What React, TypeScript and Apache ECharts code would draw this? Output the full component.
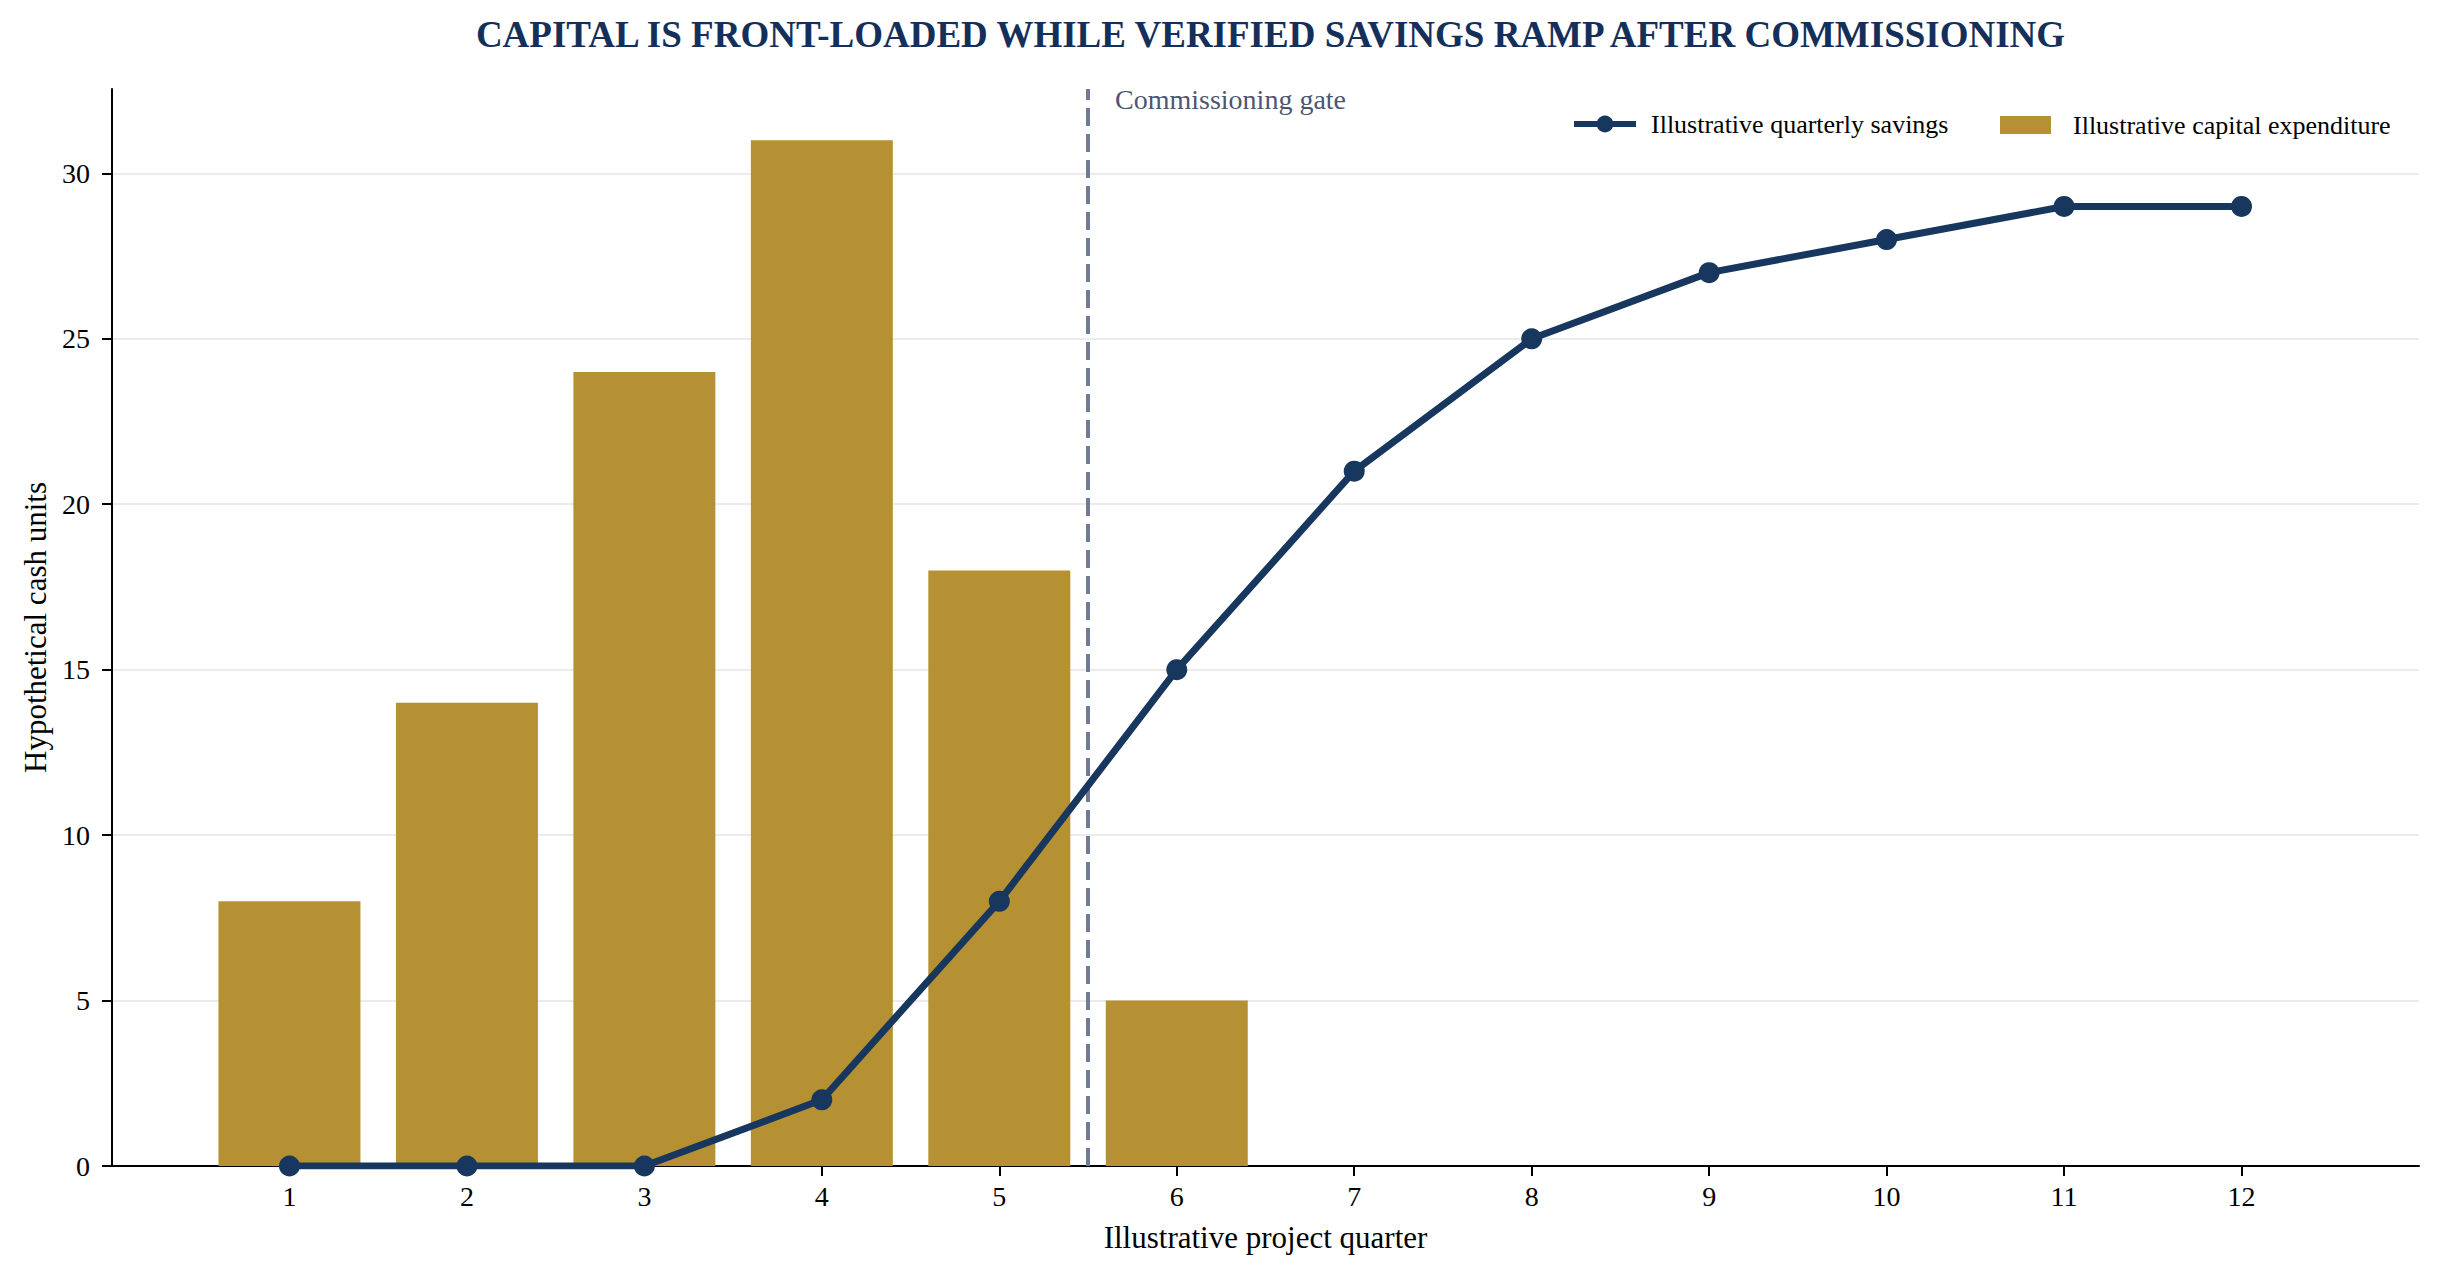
import React, { useEffect, useRef } from "react";
import * as echarts from "echarts";

const quarters = [1, 2, 3, 4, 5, 6, 7, 8, 9, 10, 11, 12];
const capex = [8, 14, 24, 31, 18, 5, 0, 0, 0, 0, 0, 0];
const savings = [0, 0, 0, 2, 8, 15, 21, 25, 27, 28, 29, 29];
const yTicks = [0, 5, 10, 15, 20, 25, 30];
const gateQuarter = 5.5;
const xMin = 0;
const xMax = 13;
const yMax = 32.55;

const titleText = "CAPITAL IS FRONT-LOADED WHILE VERIFIED SAVINGS RAMP AFTER COMMISSIONING";
const savingsName = "Illustrative quarterly savings";
const capexName = "Illustrative capital expenditure";
const gateLabel = "Commissioning gate";

const FONT = '"Liberation Serif", "DejaVu Serif", "Times New Roman", serif';
const NAVY = "#17375e";
const GOLD = "#b59133";

export default function App() {
  const ref = useRef<HTMLDivElement>(null);

  useEffect(() => {
    if (!ref.current) return;
    const chart = echarts.init(ref.current, undefined, { renderer: "svg" });
    const W = chart.getWidth();
    const gridLeft = 112;
    const gridRight = 20;
    const gridTop = 89;
    const gridBottom = 110;
    const plotW = W - gridLeft - gridRight;
    const unitPx = plotW / (xMax - xMin);

    chart.setOption({
      animation: false,
      backgroundColor: "#ffffff",
      textStyle: { fontFamily: FONT },
      title: {
        text: titleText,
        left: gridLeft + plotW / 2,
        textAlign: "center",
        top: 11,
        textStyle: { fontFamily: FONT, fontSize: 37, fontWeight: "bold", color: "#14305a" },
      },
      legend: [
        {
          data: [savingsName],
          left: 1571,
          top: 111,
          padding: 0,
          itemWidth: 62,
          itemHeight: 21,
          lineStyle: { width: 6 },
          textStyle: { fontFamily: FONT, fontSize: 26, color: "#000", padding: [0, 0, 0, 10] },
        },
        {
          data: [{ name: capexName, icon: "rect" }],
          left: 2000,
          top: 112,
          padding: 0,
          itemWidth: 51,
          itemHeight: 18,
          textStyle: { fontFamily: FONT, fontSize: 26, color: "#000", padding: [0, 0, 0, 17] },
        },
      ],
      grid: { left: gridLeft, right: gridRight, top: gridTop, bottom: gridBottom, containLabel: false },
      xAxis: {
        type: "value",
        min: xMin,
        max: xMax,
        interval: 1,
        name: "Illustrative project quarter",
        nameLocation: "middle",
        nameGap: 56,
        nameTextStyle: { fontFamily: FONT, fontSize: 31, color: "#000" },
        axisLine: { show: true, onZero: false, lineStyle: { color: "#000", width: 2 } },
        axisTick: { show: true, length: 10, customValues: quarters, lineStyle: { color: "#000", width: 2 } },
        axisLabel: { customValues: quarters, fontFamily: FONT, fontSize: 28, color: "#000", margin: 16 },
        splitLine: { show: false },
      },
      yAxis: {
        type: "value",
        min: 0,
        max: yMax,
        interval: 5,
        name: "Hypothetical cash units",
        nameLocation: "middle",
        nameGap: 60,
        nameTextStyle: { fontFamily: FONT, fontSize: 31, color: "#000" },
        axisLine: { show: true, lineStyle: { color: "#000", width: 2 } },
        axisTick: { show: true, length: 10, customValues: yTicks, lineStyle: { color: "#000", width: 2 } },
        axisLabel: { customValues: yTicks, fontFamily: FONT, fontSize: 28, color: "#000", margin: 22 },
        splitLine: { show: true, lineStyle: { color: "#ebebeb", width: 2 } },
      },
      series: [
        {
          name: capexName,
          type: "bar",
          barWidth: unitPx * 0.8,
          itemStyle: { color: GOLD },
          data: quarters.map((q, i) => [q, capex[i]]).filter((d) => d[1] > 0),
          z: 2,
          markLine: {
            silent: true,
            symbol: ["none", "none"],
            label: { show: false },
            lineStyle: { color: "#707b93", width: 4, type: [18, 8] },
            data: [{ xAxis: gateQuarter }],
          },
        },
        {
          name: savingsName,
          type: "line",
          data: quarters.map((q, i) => [q, savings[i]]),
          symbol: "circle",
          symbolSize: 21,
          lineStyle: { color: NAVY, width: 7 },
          itemStyle: { color: NAVY },
          z: 5,
        },
      ],
    });

    const p = chart.convertToPixel({ gridIndex: 0 }, [gateQuarter, yMax]) as number[];
    chart.setOption({
      graphic: [
        {
          type: "text",
          x: p[0] + 27,
          y: p[1] - 4,
          style: {
            text: gateLabel,
            fontFamily: FONT,
            fontSize: 28,
            fill: "#4b5671",
            textAlign: "left",
            textVerticalAlign: "top",
          },
        },
      ],
    });

    return () => chart.dispose();
  }, []);

  return <div ref={ref} style={{ position: "fixed", left: 0, top: 0, width: "100vw", height: "100vh" }} />;
}
